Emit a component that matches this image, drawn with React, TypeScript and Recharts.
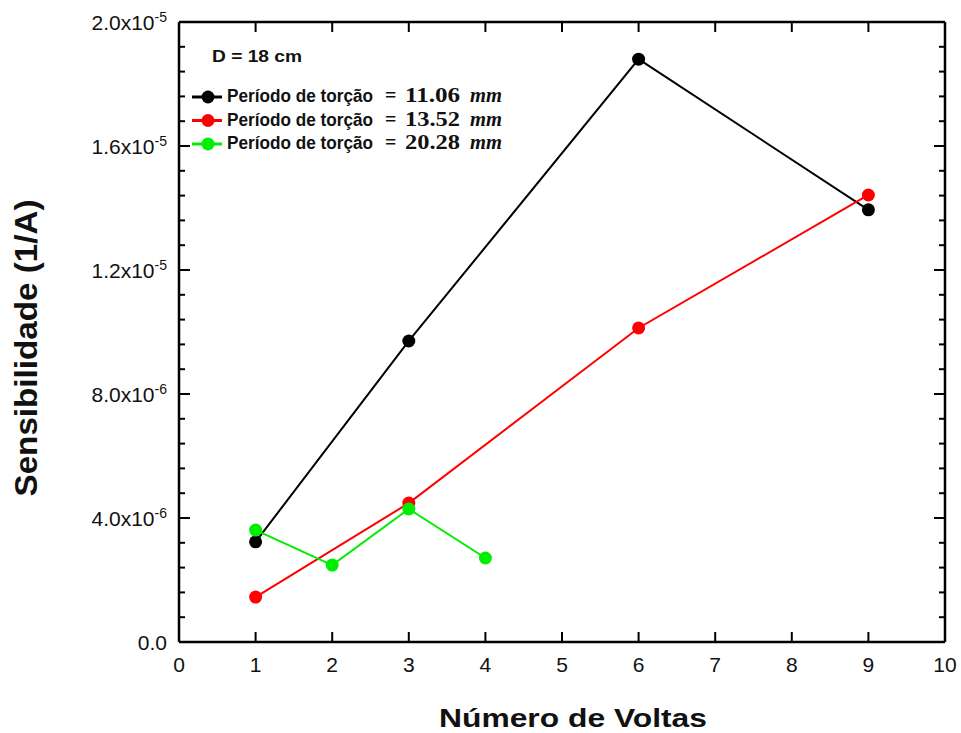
import { LineChart, Line, XAxis, YAxis, ReferenceLine } from 'recharts';

// Número de voltas for each torsion period
const voltasA = [1, 3, 6, 9];
const voltasB = [1, 3, 6, 9];
const voltasC = [1, 2, 3, 4];

// Sensibilidade (1/A)
const sensA = [3.23e-6, 9.71e-6, 18.8e-6, 13.94e-6];
const sensB = [1.45e-6, 4.48e-6, 10.13e-6, 14.42e-6];
const sensC = [3.61e-6, 2.48e-6, 4.29e-6, 2.71e-6];

const seriesNames = ['11.06', '13.52', '20.28'];
const seriesColors = ['#000000', '#ff0000', '#00ee00'];

const xTicks = [0, 1, 2, 3, 4, 5, 6, 7, 8, 9, 10];
const yMinorStep = 0.8e-6;
const yTicks = Array.from({ length: 26 }, (_, i) => i * yMinorStep);
const yLabels = [
  { m: '0.0', e: '' },
  { m: '4.0x10', e: '-6' },
  { m: '8.0x10', e: '-6' },
  { m: '1.2x10', e: '-5' },
  { m: '1.6x10', e: '-5' },
  { m: '2.0x10', e: '-5' },
];

const toPoints = (xs: number[], ys: number[]) => xs.map((x, i) => ({ x, y: ys[i] }));
const dataA = toPoints(voltasA, sensA);
const dataB = toPoints(voltasB, sensB);
const dataC = toPoints(voltasC, sensC);

const W = 961;
const H = 733;
const LEFT = 179;
const RIGHT = 945;
const TOP = 22;
const BOTTOM = 642;
const FONT = '"Liberation Sans", Arial, sans-serif';
const MATH = '"Liberation Serif", serif';

const XTick = (props: any) => {
  const { x, payload } = props;
  const v = payload.value;
  const edge = v === 0 || v === 10;
  return (
    <g>
      {!edge && (
        <>
          <line x1={x} x2={x} y1={BOTTOM} y2={BOTTOM - 10} stroke="#000" strokeWidth={2} />
          <line x1={x} x2={x} y1={TOP} y2={TOP + 10} stroke="#000" strokeWidth={2} />
        </>
      )}
      <text x={x} y={672} textAnchor="middle" fontFamily={FONT} fontSize={21} fill="#111">
        {v}
      </text>
    </g>
  );
};

const YTick = (props: any) => {
  const { y, index } = props;
  const major = index % 5 === 0;
  const len = major ? 11 : 6;
  const edge = index === 0 || index === 25;
  const lab = major ? yLabels[index / 5] : null;
  return (
    <g>
      {!edge && (
        <>
          <line x1={LEFT} x2={LEFT + len} y1={y} y2={y} stroke="#000" strokeWidth={2} />
          <line x1={RIGHT} x2={RIGHT - len} y1={y} y2={y} stroke="#000" strokeWidth={2} />
        </>
      )}
      {lab && (
        <text x={167} y={y + 8} textAnchor="end" fontFamily={FONT} fontSize={21} fill="#111">
          {lab.m}
          {lab.e && (
            <tspan fontSize={14} dy={-8}>
              {lab.e}
            </tspan>
          )}
        </text>
      )}
    </g>
  );
};

// legend block drawn on top of the plot area
const LegendBox = () => (
  <svg width={340} height={130} style={{ position: 'absolute', left: 185, top: 40 }}>
    <text x={27} y={22} fontFamily={FONT} fontWeight="bold" fontSize={17} textLength={90} lengthAdjust="spacingAndGlyphs" fill="#111">
      D = 18 cm
    </text>
    {seriesNames.map((name, i) => {
      const cy = 57 + i * 23.5;
      const color = seriesColors[i];
      return (
        <g key={name}>
          <line x1={7} x2={37} y1={cy} y2={cy} stroke={color} strokeWidth={3} />
          <circle cx={23} cy={cy} r={6.5} fill={color} />
          <text x={42} y={cy + 5} fontFamily={FONT} fontWeight="bold" fontSize={18} textLength={146} lengthAdjust="spacingAndGlyphs" fill="#111">
            Período de torção
          </text>
          <text x={200} y={cy + 5} fontFamily={MATH} fontWeight="bold" fontSize={20} fill="#111">
            =
          </text>
          <text x={220} y={cy + 5} fontFamily={MATH} fontWeight="bold" fontSize={20} textLength={55} lengthAdjust="spacingAndGlyphs" fill="#111">
            {name}
          </text>
          <text x={285} y={cy + 5} fontFamily={MATH} fontWeight="bold" fontStyle="italic" fontSize={20} textLength={32} lengthAdjust="spacingAndGlyphs" fill="#111">
            mm
          </text>
        </g>
      );
    })}
  </svg>
);

export default function App() {
  return (
    <div style={{ position: 'absolute', left: 0, top: 0, width: W, height: H, background: '#fff' }}>
      <LineChart width={W} height={H} margin={{ top: TOP, right: W - RIGHT, bottom: 0, left: 0 }}>
        <XAxis
          type="number"
          dataKey="x"
          domain={[0, 10]}
          ticks={xTicks}
          height={H - BOTTOM}
          allowDataOverflow
          tickLine={false}
          axisLine={{ stroke: '#000', strokeWidth: 2.5 }}
          tick={<XTick />}
          interval={0}
          label={{
            content: () => (
              <text x={573} y={727} textAnchor="middle" fontFamily={FONT} fontWeight="bold" fontSize={26} textLength={268} lengthAdjust="spacingAndGlyphs" fill="#111">
                Número de Voltas
              </text>
            ),
          }}
        />
        <YAxis
          type="number"
          dataKey="y"
          domain={[0, 2e-5]}
          ticks={yTicks}
          width={LEFT}
          allowDataOverflow
          tickLine={false}
          axisLine={{ stroke: '#000', strokeWidth: 2.5 }}
          tick={<YTick />}
          interval={0}
          label={{
            content: () => (
              <text
                x={0}
                y={0}
                transform="translate(37,348) rotate(-90)"
                textAnchor="middle"
                fontFamily={FONT}
                fontWeight="bold"
                fontSize={31}
                textLength={297}
                lengthAdjust="spacingAndGlyphs"
                fill="#111"
              >
                Sensibilidade (1/A)
              </text>
            ),
          }}
        />
        <ReferenceLine y={2e-5} stroke="#000" strokeWidth={2.5} ifOverflow="visible" />
        <ReferenceLine x={10} stroke="#000" strokeWidth={2.5} ifOverflow="visible" />
        <Line
          data={dataA}
          dataKey="y"
          name={seriesNames[0]}
          stroke={seriesColors[0]}
          strokeWidth={2}
          dot={{ r: 6.5, fill: seriesColors[0], stroke: 'none' }}
          isAnimationActive={false}
        />
        <Line
          data={dataB}
          dataKey="y"
          name={seriesNames[1]}
          stroke={seriesColors[1]}
          strokeWidth={2}
          dot={{ r: 6.5, fill: seriesColors[1], stroke: 'none' }}
          isAnimationActive={false}
        />
        <Line
          data={dataC}
          dataKey="y"
          name={seriesNames[2]}
          stroke={seriesColors[2]}
          strokeWidth={2}
          dot={{ r: 6.5, fill: seriesColors[2], stroke: 'none' }}
          isAnimationActive={false}
        />
      </LineChart>
      <LegendBox />
    </div>
  );
}
